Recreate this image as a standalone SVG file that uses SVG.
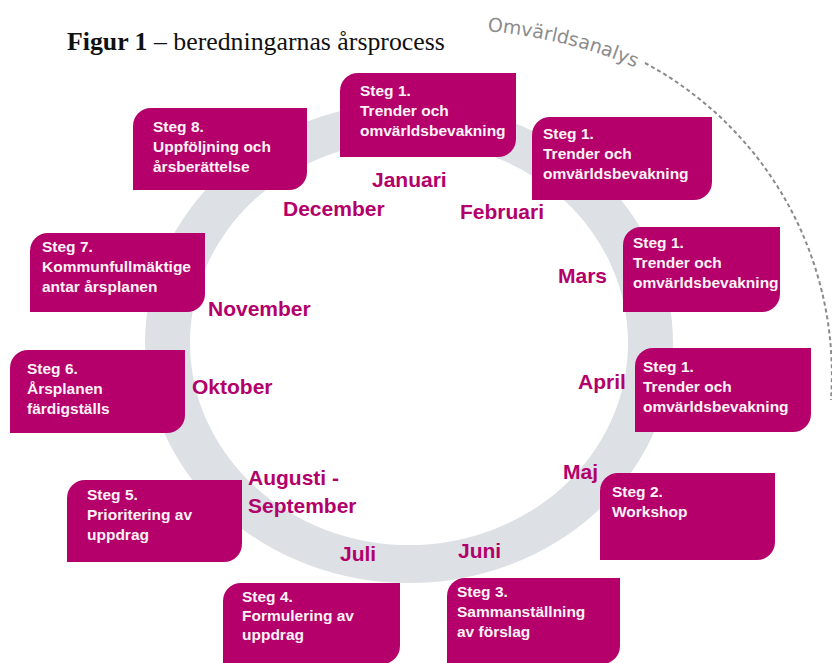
<svg xmlns="http://www.w3.org/2000/svg" width="832" height="663" viewBox="0 0 832 663">
<style>
.box{fill:#b5006b}
.bt{font-family:"Liberation Sans",Arial,sans-serif;font-weight:bold;font-size:15.5px;fill:#fdf3f8}
.mon{font-family:"Liberation Sans",Arial,sans-serif;font-weight:bold;font-size:21px;fill:#b3006b}
.ring{fill:#dde1e5}
</style>
<rect width="832" height="663" fill="#ffffff"/>
<text x="67" y="50" font-family="'Liberation Serif','Times New Roman',serif" font-size="25.8" fill="#111"><tspan font-weight="bold">Figur 1</tspan> – beredningarnas årsprocess</text>
<g id="omvarldsanalys">
<path id="arcText" d="M487,31 Q578,40 645,72" fill="none"/>
<text font-family="'DejaVu Sans',Verdana,sans-serif" font-size="19" fill="#8c8c8c"><textPath href="#arcText">Omvärldsanalys</textPath></text>
<path d="M645,63 A354,354 0 0 1 831,400" fill="none" stroke="#8a8a8a" stroke-width="2" stroke-dasharray="4 3"/>
</g>
<g id="ring">
<path class="ring" fill-rule="evenodd" d="M145,343 A264,240 0 1 0 673,343 A264,240 0 1 0 145,343 Z M190,343 A219,202 0 1 0 628,343 A219,202 0 1 0 190,343 Z"/>
</g>
<g id="months">
<text class="mon" x="372" y="187">Januari</text>
<text class="mon" x="460" y="219">Februari</text>
<text class="mon" x="558" y="283">Mars</text>
<text class="mon" x="578" y="389">April</text>
<text class="mon" x="563" y="479">Maj</text>
<text class="mon" x="458" y="558">Juni</text>
<text class="mon" x="340" y="561">Juli</text>
<text class="mon" x="248" y="485">Augusti -</text>
<text class="mon" x="248" y="513">September</text>
<text class="mon" x="192" y="394">Oktober</text>
<text class="mon" x="208" y="316">November</text>
<text class="mon" x="283" y="216">December</text>
</g>
<g id="jan">
<path class="box" d="M358,73 H516 V139 A18,18 0 0 1 498,157 H340 V91 A18,18 0 0 1 358,73 Z"/>
<text class="bt" x="360" y="96">Steg 1.<tspan x="360" dy="20">Trender och</tspan><tspan x="360" dy="20">omvärldsbevakning</tspan></text>
</g>
<g id="feb">
<path class="box" d="M550,117 H712 V182 A18,18 0 0 1 694,200 H532 V135 A18,18 0 0 1 550,117 Z"/>
<text class="bt" x="543" y="139">Steg 1.<tspan x="543" dy="20">Trender och</tspan><tspan x="543" dy="20">omvärldsbevakning</tspan></text>
</g>
<g id="mar">
<path class="box" d="M641,227 H780 V294 A18,18 0 0 1 762,312 H623 V245 A18,18 0 0 1 641,227 Z"/>
<text class="bt" x="633" y="248">Steg 1.<tspan x="633" dy="20">Trender och</tspan><tspan x="633" dy="20">omvärldsbevakning</tspan></text>
</g>
<g id="apr">
<path class="box" d="M653,348 H811 V414 A18,18 0 0 1 793,432 H635 V366 A18,18 0 0 1 653,348 Z"/>
<text class="bt" x="643" y="372">Steg 1.<tspan x="643" dy="20">Trender och</tspan><tspan x="643" dy="20">omvärldsbevakning</tspan></text>
</g>
<g id="steg2">
<path class="box" d="M618,473 H775 V542 A18,18 0 0 1 757,560 H600 V491 A18,18 0 0 1 618,473 Z"/>
<text class="bt" x="612" y="497">Steg 2.<tspan x="612" dy="20">Workshop</tspan></text>
</g>
<g id="steg3">
<path class="box" d="M465,578 H620 V646 A18,18 0 0 1 602,664 H447 V596 A18,18 0 0 1 465,578 Z"/>
<text class="bt" x="457" y="597">Steg 3.<tspan x="457" dy="20">Sammanställning</tspan><tspan x="457" dy="20">av förslag</tspan></text>
</g>
<g id="steg4">
<path class="box" d="M241,583 H400 V646 A18,18 0 0 1 382,664 H223 V601 A18,18 0 0 1 241,583 Z"/>
<text class="bt" x="242" y="602">Steg 4.<tspan x="242" dy="19">Formulering av</tspan><tspan x="242" dy="19">uppdrag</tspan></text>
</g>
<g id="steg5">
<path class="box" d="M85,480 H242 V544 A18,18 0 0 1 224,562 H67 V498 A18,18 0 0 1 85,480 Z"/>
<text class="bt" x="87" y="500">Steg 5.<tspan x="87" dy="20">Prioritering av</tspan><tspan x="87" dy="20">uppdrag</tspan></text>
</g>
<g id="steg6">
<path class="box" d="M28,350 H185 V415 A18,18 0 0 1 167,433 H10 V368 A18,18 0 0 1 28,350 Z"/>
<text class="bt" x="27" y="374">Steg 6.<tspan x="27" dy="20">Årsplanen</tspan><tspan x="27" dy="20">färdigställs</tspan></text>
</g>
<g id="steg7">
<path class="box" d="M48,233 H205 V294 A18,18 0 0 1 187,312 H30 V251 A18,18 0 0 1 48,233 Z"/>
<text class="bt" x="42" y="252">Steg 7.<tspan x="42" dy="20">Kommunfullmäktige</tspan><tspan x="42" dy="20">antar årsplanen</tspan></text>
</g>
<g id="steg8">
<path class="box" d="M151,108 H307 V172 A18,18 0 0 1 289,190 H133 V126 A18,18 0 0 1 151,108 Z"/>
<text class="bt" x="153" y="132">Steg 8.<tspan x="153" dy="20">Uppföljning och</tspan><tspan x="153" dy="20">årsberättelse</tspan></text>
</g>
</svg>
